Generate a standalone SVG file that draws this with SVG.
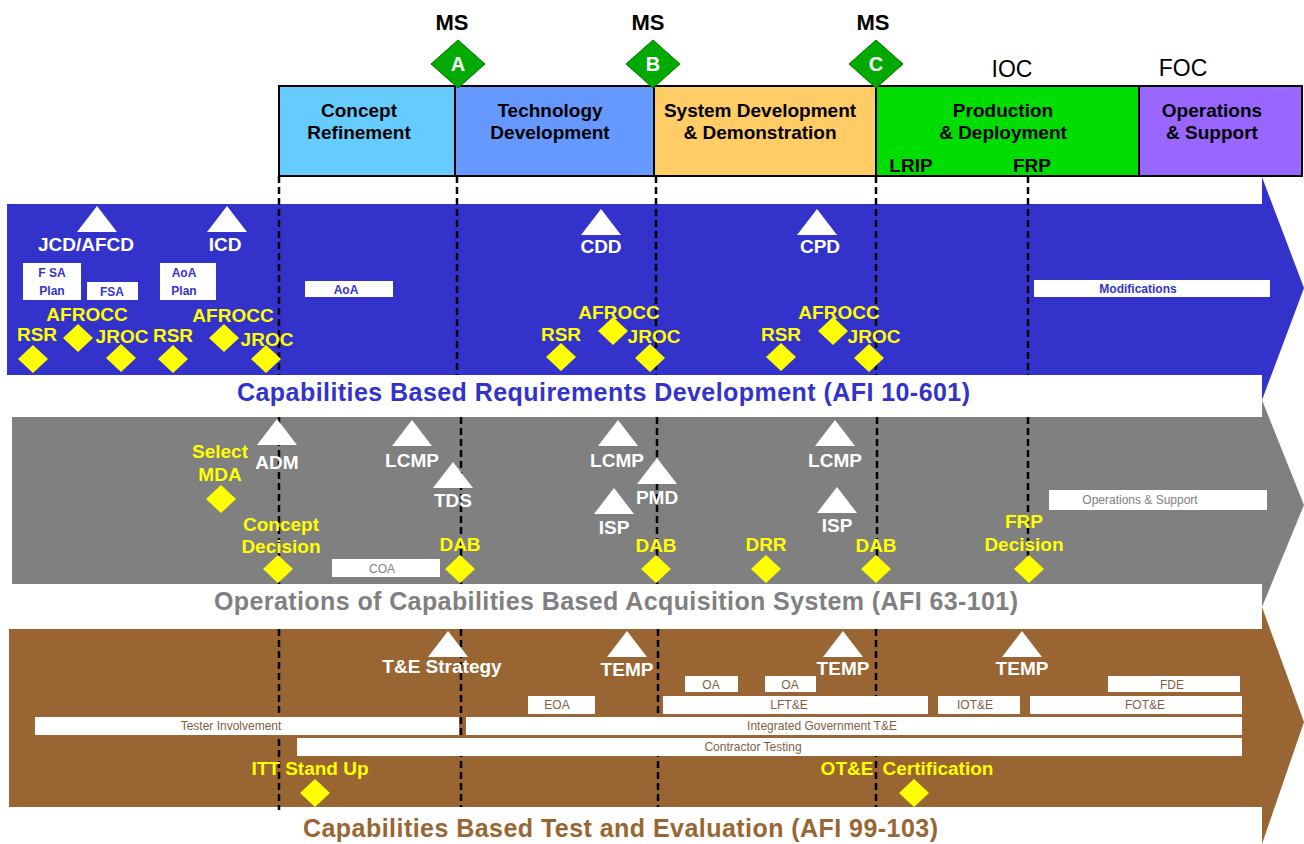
<svg xmlns="http://www.w3.org/2000/svg" xmlns:xlink="http://www.w3.org/1999/xlink" width="1304" height="844" viewBox="0 0 1304 844">
<style>
text{font-family:"Liberation Sans",Arial,sans-serif;}
.ms{font-size:22px;font-weight:bold;fill:#000;text-anchor:middle;}
.msl{font-size:20px;font-weight:bold;fill:#fff;text-anchor:middle;}
.oc{font-size:23px;fill:#000;text-anchor:middle;}
.ph{font-size:19px;font-weight:bold;fill:#000;text-anchor:middle;}
.wl{font-size:19px;font-weight:bold;fill:#fff;text-anchor:middle;}
.yl{font-size:19px;font-weight:bold;fill:#ffff00;text-anchor:middle;}
.bx{fill:#fff;}
.tb{font-size:12px;font-weight:bold;fill:#3333cc;text-anchor:middle;}
.tg{font-size:12px;fill:#808080;text-anchor:middle;}
.tr{font-size:12px;fill:#7d5f3f;text-anchor:middle;}
.title{font-size:25px;font-weight:bold;}
.dash{stroke:#000;stroke-width:2.5;stroke-dasharray:7,4;fill:none;}
.tri{fill:#fff;}
.dia{fill:#ffff00;}
</style>
<defs>
<polygon id="tri" points="0,0 20,26 -20,26"/>
<polygon id="dia" points="0,-14 15,0 0,14 -15,0"/>
<polygon id="gdia" points="0,-24 27,0 0,24 -27,0" fill="#00aa00" stroke="#007700" stroke-width="1"/>
</defs>
<rect width="1304" height="844" fill="#fff"/>

<g id="bands">
<polygon fill="#3333cc" points="7,204 1262,204 1262,177 1304,288 1262,400 1262,375 7,375"/>
<polygon fill="#808080" points="12,417 1262,417 1262,400 1304,505 1262,607 1262,584 12,584"/>
<polygon fill="#996633" points="9,629 1262,629 1262,607 1304,722 1262,844 1262,807 9,807"/>
<text class="title" fill="#3333cc" x="237" y="401" textLength="733" lengthAdjust="spacing">Capabilities Based Requirements Development  (AFI 10-601)</text>
<text class="title" fill="#808080" x="214" y="610" textLength="804" lengthAdjust="spacing">Operations of Capabilities Based Acquisition System  (AFI 63-101)</text>
<text class="title" fill="#996633" x="303" y="837" textLength="635" lengthAdjust="spacing">Capabilities Based Test and Evaluation  (AFI 99-103)</text>
</g>

<g id="phases">
<g id="phase-cr"><rect x="279" y="86" width="176" height="90" fill="#66ccff" stroke="#000" stroke-width="2"/><text class="ph" x="359" y="117">Concept</text><text class="ph" x="359" y="139">Refinement</text></g>
<g id="phase-td"><rect x="455" y="86" width="199" height="90" fill="#6699ff" stroke="#000" stroke-width="2"/><text class="ph" x="550" y="117">Technology</text><text class="ph" x="550" y="139">Development</text></g>
<g id="phase-sdd"><rect x="654" y="86" width="222" height="90" fill="#ffcc66" stroke="#000" stroke-width="2"/><text class="ph" x="760" y="117">System Development</text><text class="ph" x="760" y="139">&amp; Demonstration</text></g>
<g id="phase-pd"><rect x="876" y="86" width="263" height="90" fill="#00dd00" stroke="#000" stroke-width="2"/><text class="ph" x="1003" y="117">Production</text><text class="ph" x="1003" y="139">&amp; Deployment</text><text class="ph" x="911" y="172">LRIP</text><text class="ph" x="1032" y="172">FRP</text></g>
<g id="phase-os"><rect x="1139" y="86" width="163" height="90" fill="#9966ff" stroke="#000" stroke-width="2"/><text class="ph" x="1212" y="117">Operations</text><text class="ph" x="1212" y="139">&amp; Support</text></g>
</g>

<g id="milestones">
<g id="ms-a"><text class="ms" x="452" y="30">MS</text><use href="#gdia" x="458" y="64"/><text class="msl" x="458" y="71">A</text></g>
<g id="ms-b"><text class="ms" x="648" y="30">MS</text><use href="#gdia" x="653" y="64"/><text class="msl" x="653" y="71">B</text></g>
<g id="ms-c"><text class="ms" x="873" y="30">MS</text><use href="#gdia" x="876" y="64"/><text class="msl" x="876" y="71">C</text></g>
<text class="oc" x="1012" y="77">IOC</text>
<text class="oc" x="1183" y="76">FOC</text>
</g>

<g id="connectors">
<path class="dash" d="M279,176V375M279,417V584M279,629V810"/>
<path class="dash" d="M457,176V375M461,417V584M461,629V807"/>
<path class="dash" d="M656,176V375M657,417V584M658,629V807"/>
<path class="dash" d="M876,176V375M877,417V568M876,629V807"/>
<path class="dash" d="M1028,176V375M1028,417V566"/>
</g>

<g id="req">
<g id="jcd"><use href="#tri" class="tri" x="97" y="206"/><text class="wl" x="86" y="251">JCD/AFCD</text></g>
<g id="icd"><use href="#tri" class="tri" x="227" y="206"/><text class="wl" x="225" y="251">ICD</text></g>
<g id="cdd"><use href="#tri" class="tri" x="601" y="209"/><text class="wl" x="601" y="253">CDD</text></g>
<g id="cpd"><use href="#tri" class="tri" x="817" y="209"/><text class="wl" x="820" y="253">CPD</text></g>
<g id="fsaplan"><rect class="bx" x="23" y="263" width="58" height="37"/><text class="tb" x="52" y="277">F SA</text><text class="tb" x="52" y="295">Plan</text></g>
<g id="fsa"><rect class="bx" x="87" y="282" width="51" height="18"/><text class="tb" x="112" y="296">FSA</text></g>
<g id="aoaplan"><rect class="bx" x="160" y="263" width="56" height="37"/><text class="tb" x="184" y="277">AoA</text><text class="tb" x="184" y="295">Plan</text></g>
<g id="aoa"><rect class="bx" x="305" y="281" width="88" height="16"/><text class="tb" x="346" y="294">AoA</text></g>
<g id="mods"><rect class="bx" x="1034" y="280" width="236" height="17"/><text class="tb" x="1138" y="293">Modifications</text></g>
<g id="req-yl">
<text class="yl" x="87" y="321">AFROCC</text>
<text class="yl" x="37" y="341">RSR</text>
<text class="yl" x="122" y="343">JROC</text>
<text class="yl" x="173" y="342">RSR</text>
<text class="yl" x="233" y="322">AFROCC</text>
<text class="yl" x="267" y="346">JROC</text>
<text class="yl" x="619" y="319">AFROCC</text>
<text class="yl" x="561" y="341">RSR</text>
<text class="yl" x="654" y="343">JROC</text>
<text class="yl" x="839" y="319">AFROCC</text>
<text class="yl" x="781" y="341">RSR</text>
<text class="yl" x="874" y="343">JROC</text>
</g>
<g id="req-dia" class="dia">
<use href="#dia" x="33" y="359"/><use href="#dia" x="78" y="338"/><use href="#dia" x="121" y="358"/>
<use href="#dia" x="173" y="359"/><use href="#dia" x="224" y="338"/><use href="#dia" x="266" y="359"/>
<use href="#dia" x="561" y="357"/><use href="#dia" x="613" y="331"/><use href="#dia" x="650" y="358"/>
<use href="#dia" x="781" y="357"/><use href="#dia" x="833" y="331"/><use href="#dia" x="869" y="358"/>
</g>
</g>

<g id="acq">
<g id="adm"><use href="#tri" class="tri" x="277" y="419"/><text class="wl" x="277" y="469">ADM</text></g>
<g id="lcmp1"><use href="#tri" class="tri" x="412" y="420"/><text class="wl" x="412" y="467">LCMP</text></g>
<g id="tds"><use href="#tri" class="tri" x="453" y="462"/><text class="wl" x="453" y="507">TDS</text></g>
<g id="lcmp2"><use href="#tri" class="tri" x="618" y="420"/><text class="wl" x="617" y="467">LCMP</text></g>
<g id="pmd"><use href="#tri" class="tri" x="657" y="458"/><text class="wl" x="657" y="504">PMD</text></g>
<g id="isp1"><use href="#tri" class="tri" x="614" y="488"/><text class="wl" x="614" y="534">ISP</text></g>
<g id="lcmp3"><use href="#tri" class="tri" x="835" y="420"/><text class="wl" x="835" y="467">LCMP</text></g>
<g id="isp2"><use href="#tri" class="tri" x="837" y="487"/><text class="wl" x="837" y="532">ISP</text></g>
<g id="coa"><rect class="bx" x="332" y="559" width="108" height="18"/><text class="tg" x="382" y="573">COA</text></g>
<g id="os"><rect class="bx" x="1049" y="490" width="218" height="20"/><text class="tg" x="1140" y="504">Operations &amp; Support</text></g>
<g id="acq-yl">
<text class="yl" x="220" y="458">Select</text><text class="yl" x="220" y="481">MDA</text>
<text class="yl" x="281" y="531">Concept</text><text class="yl" x="281" y="553">Decision</text>
<text class="yl" x="460" y="551">DAB</text>
<text class="yl" x="656" y="552">DAB</text>
<text class="yl" x="766" y="551">DRR</text>
<text class="yl" x="876" y="552">DAB</text>
<text class="yl" x="1024" y="528">FRP</text><text class="yl" x="1024" y="551">Decision</text>
</g>
<g id="acq-dia" class="dia">
<use href="#dia" x="221" y="499"/><use href="#dia" x="278" y="569"/><use href="#dia" x="460" y="569"/>
<use href="#dia" x="656" y="569"/><use href="#dia" x="766" y="569"/><use href="#dia" x="876" y="569"/><use href="#dia" x="1029" y="569"/>
</g>
</g>

<g id="te">
<g id="tes"><use href="#tri" class="tri" x="448" y="631"/><text class="wl" x="442" y="673">T&amp;E Strategy</text></g>
<g id="temp1"><use href="#tri" class="tri" x="627" y="631"/><text class="wl" x="627" y="676">TEMP</text></g>
<g id="temp2"><use href="#tri" class="tri" x="843" y="631"/><text class="wl" x="843" y="675">TEMP</text></g>
<g id="temp3"><use href="#tri" class="tri" x="1022" y="631"/><text class="wl" x="1022" y="675">TEMP</text></g>
<g id="oa1"><rect class="bx" x="685" y="676" width="53" height="16"/><text class="tr" x="711" y="689">OA</text></g>
<g id="oa2"><rect class="bx" x="765" y="676" width="51" height="16"/><text class="tr" x="790" y="689">OA</text></g>
<g id="fde"><rect class="bx" x="1108" y="676" width="132" height="16"/><text class="tr" x="1172" y="689">FDE</text></g>
<g id="eoa"><rect class="bx" x="528" y="696" width="67" height="18"/><text class="tr" x="557" y="709">EOA</text></g>
<g id="lfte"><rect class="bx" x="663" y="696" width="265" height="18"/><text class="tr" x="789" y="709">LFT&amp;E</text></g>
<g id="iote"><rect class="bx" x="938" y="696" width="82" height="18"/><text class="tr" x="975" y="709">IOT&amp;E</text></g>
<g id="fote"><rect class="bx" x="1030" y="696" width="212" height="18"/><text class="tr" x="1145" y="709">FOT&amp;E</text></g>
<g id="tester"><rect class="bx" x="35" y="717" width="424" height="18"/><text class="tr" x="231" y="730">Tester Involvement</text></g>
<g id="igte"><rect class="bx" x="466" y="717" width="776" height="18"/><text class="tr" x="822" y="730">Integrated Government T&amp;E</text></g>
<g id="ct"><rect class="bx" x="297" y="738" width="945" height="18"/><text class="tr" x="753" y="751">Contractor Testing</text></g>
<g id="te-yl">
<text class="yl" x="310" y="775">ITT Stand Up</text>
<text class="yl" x="847" y="775">OT&amp;E</text>
<text class="yl" x="938" y="775">Certification</text>
</g>
<g id="te-dia" class="dia"><use href="#dia" x="315" y="793"/><use href="#dia" x="914" y="793"/></g>
</g>
</svg>
